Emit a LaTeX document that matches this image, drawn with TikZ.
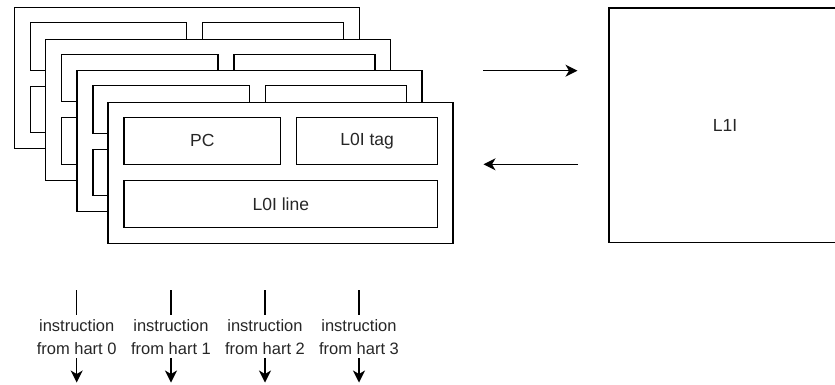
\documentclass[tikz,border=0pt]{standalone}
\usepackage{fontspec}
\setmainfont{Liberation Sans}
\usetikzlibrary{arrows.meta}
\begin{document}
\begin{tikzpicture}[x=1pt,y=-1pt,
  card/.style={draw,fill=white,line width=1.4pt,anchor=north west,inner sep=0pt,minimum width=345pt,minimum height=141pt},
  cell/.style={draw,fill=white,line width=1.4pt,anchor=north west,inner sep=0pt,minimum height=47.5pt},
  lbl/.style={inner sep=0pt,text=black!85,font=\fontsize{17.5}{20}\selectfont},
  bigbox/.style={draw,fill=white,line width=1.4pt,inner sep=0pt,text=black!85,font=\fontsize{17.5}{20}\selectfont},
  hartlabel/.style={align=center,inner sep=0pt,text=black!85,font=\fontsize{16.5}{22.3}\selectfont},
  link/.style={line width=1.4pt,-{Stealth[length=12pt,width=12pt,inset=3.5pt]}},
  stub/.style={line width=1.4pt}
]
\useasboundingbox (0,0) rectangle (835,384);
\clip (0,0) rectangle (835,384);
\foreach \i/\nm in {0/a,1/b,2/c,3/d}{
  \pgfmathsetmacro{\cx}{13.5+31.3*\i}
  \pgfmathsetmacro{\cy}{7+31.5*\i}
  \node[card] (card\nm) at (\cx,\cy) {};
  \node[cell,minimum width=156.5pt] (pc\nm) at (\cx+16,\cy+15) {};
  \node[cell,minimum width=141pt] (tag\nm) at (\cx+188.5,\cy+15) {};
  \node[cell,minimum width=313.5pt,minimum height=46.5pt] (line\nm) at (\cx+16,\cy+78.5) {};
}
\node[lbl] (pctext) at (pcd) {PC};
\node[lbl] (tagtext) at (tagd) {L0I tag};
\node[lbl] (linetext) at (lined) {L0I line};
\node[bigbox,minimum width=232pt,minimum height=234.5pt] (l1i) at (725,125.3) {L1I};
\coordinate (r1) at (483,70.7);
\coordinate (r2) at (577.5,70.7);
\coordinate (l1) at (578,164.3);
\coordinate (l2) at (483.5,164.3);
\draw[link] (r1) -- (r2);
\draw[link] (l1) -- (l2);
\foreach \i/\x in {0/76.7,1/171,2/265,3/359}{
  \node[hartlabel] (h\i) at (\x,337) {instruction\\from hart \i};
  \coordinate (ta\i) at (\x,290);
  \coordinate (tb\i) at (\x,315);
  \coordinate (ba\i) at (\x,358);
  \coordinate (bb\i) at (\x,382.5);
  \draw[stub] (ta\i) -- (tb\i);
  \draw[link] (ba\i) -- (bb\i);
}
\end{tikzpicture}
\end{document}
